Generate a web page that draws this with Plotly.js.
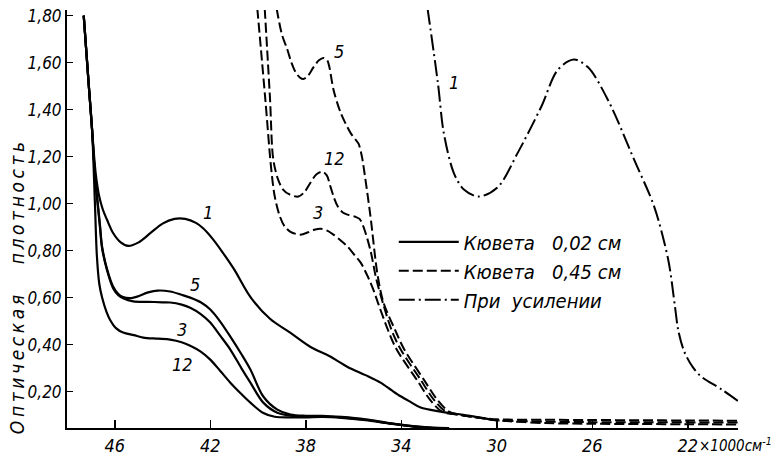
<!DOCTYPE html>
<html><head><meta charset="utf-8">
<script src="https://cdn.plot.ly/plotly-3.0.1.min.js"></script>
<style>html,body{margin:0;padding:0;background:#fff}#chart{width:776px;height:460px}</style>
</head><body><div id="chart"></div>
<script>
// Solid lines: cuvette 0.02 cm
const solid1X = [47.3, 47.1, 46.95, 46.8, 46.65, 46.5, 46.32, 46.07, 45.75, 45.44, 45.0, 44.5, 44.0, 43.5, 43.05, 42.6, 42.3, 41.9, 41.5, 41.0, 40.3, 39.5, 38.64, 37.8, 37.0, 36.25, 35.5, 34.87, 34.4, 34.03, 33.6, 33.19, 32.35, 31.2, 30.0];
const solid1Y = [1.80, 1.52, 1.315, 1.13, 1.03, 0.975, 0.93, 0.875, 0.835, 0.82, 0.835, 0.875, 0.915, 0.935, 0.935, 0.918, 0.895, 0.85, 0.795, 0.72, 0.60, 0.51, 0.45, 0.39, 0.35, 0.305, 0.27, 0.238, 0.205, 0.18, 0.155, 0.132, 0.115, 0.098, 0.077];
const solid5X = [47.3, 47.1, 46.95, 46.8, 46.74, 46.62, 46.53, 46.32, 46.07, 45.85, 45.65, 45.3, 45.06, 44.6, 44.2, 43.68, 43.2, 42.84, 42.4, 42.0, 41.6, 41.16, 40.7, 40.32, 39.78, 39.19, 38.64, 38.0, 37.3, 36.5, 35.5, 34.5, 33.5, 32.8, 32.0];
const solid5Y = [1.80, 1.52, 1.315, 1.08, 1.03, 0.91, 0.817, 0.72, 0.647, 0.615, 0.602, 0.598, 0.604, 0.622, 0.63, 0.626, 0.612, 0.60, 0.58, 0.549, 0.50, 0.434, 0.36, 0.294, 0.179, 0.123, 0.102, 0.097, 0.097, 0.092, 0.082, 0.066, 0.053, 0.047, 0.045];
const solid3X = [47.3, 47.1, 46.95, 46.8, 46.74, 46.62, 46.53, 46.32, 46.07, 45.85, 45.65, 45.23, 44.6, 44.0, 43.68, 43.2, 42.84, 42.4, 42.0, 41.6, 41.16, 40.7, 40.32, 39.78, 39.19, 38.64, 38.0, 37.3, 36.5, 35.5, 34.5, 33.5, 32.8, 32.0];
const solid3Y = [1.80, 1.52, 1.315, 1.07, 1.02, 0.90, 0.81, 0.715, 0.64, 0.61, 0.597, 0.584, 0.582, 0.58, 0.579, 0.57, 0.557, 0.53, 0.494, 0.44, 0.379, 0.30, 0.238, 0.153, 0.11, 0.098, 0.095, 0.095, 0.09, 0.08, 0.065, 0.052, 0.047, 0.045];
const solid12X = [47.3, 47.1, 46.95, 46.83, 46.75, 46.65, 46.53, 46.35, 46.2, 45.95, 45.65, 45.2, 44.81, 44.2, 43.68, 43.2, 42.84, 42.4, 42.0, 41.6, 41.16, 40.7, 40.32, 39.8, 39.3, 38.64, 38.0, 37.3, 36.5, 35.5, 34.5, 33.5, 32.8, 32.0];
const solid12Y = [1.80, 1.52, 1.315, 1.00, 0.78, 0.66, 0.60, 0.54, 0.506, 0.47, 0.451, 0.44, 0.43, 0.425, 0.421, 0.41, 0.395, 0.37, 0.336, 0.29, 0.238, 0.19, 0.153, 0.11, 0.093, 0.09, 0.09, 0.092, 0.088, 0.078, 0.064, 0.051, 0.046, 0.045];

// Dashed lines: cuvette 0.45 cm
const dash5X = [39.22, 39.0, 38.77, 38.6, 38.43, 38.25, 38.1, 37.9, 37.68, 37.45, 37.26, 37.1, 37.01, 36.84, 36.54, 36.12, 35.9, 35.79, 35.65, 35.58, 35.29, 35.0, 34.75, 34.25, 33.88, 33.05, 32.5, 32.0, 31.5, 30.5, 30.0, 28, 26, 24, 22, 19.9];
const dash5Y = [1.83, 1.72, 1.655, 1.60, 1.56, 1.537, 1.53, 1.545, 1.58, 1.61, 1.62, 1.61, 1.58, 1.485, 1.387, 1.30, 1.27, 1.255, 1.20, 1.157, 0.945, 0.70, 0.58, 0.46, 0.38, 0.25, 0.166, 0.115, 0.10, 0.087, 0.082, 0.08, 0.079, 0.078, 0.077, 0.076];
const dash12X = [39.72, 39.5, 39.36, 39.15, 38.95, 38.7, 38.31, 38.05, 37.8, 37.55, 37.3, 37.12, 36.96, 36.8, 36.67, 36.45, 36.25, 35.95, 35.75, 35.58, 35.29, 35.05, 34.75, 34.4, 34.03, 33.19, 32.64, 32.14, 31.5, 30.5, 30.0, 28, 26, 24, 22, 19.9];
const dash12Y = [1.83, 1.45, 1.187, 1.10, 1.06, 1.04, 1.03, 1.05, 1.09, 1.125, 1.136, 1.12, 1.07, 1.02, 0.99, 0.962, 0.953, 0.945, 0.935, 0.90, 0.80, 0.68, 0.57, 0.46, 0.38, 0.25, 0.166, 0.115, 0.10, 0.085, 0.078, 0.072, 0.07, 0.07, 0.069, 0.068];
const dash3X = [40.03, 39.7, 39.45, 39.3, 39.1, 38.9, 38.64, 38.22, 37.9, 37.6, 37.38, 37.1, 36.84, 36.5, 36.25, 35.95, 35.7, 35.5, 35.29, 35.12, 34.95, 34.55, 34.2, 33.35, 32.8, 32.3, 31.5, 30.5, 30.0, 28, 26, 24, 22, 19.9];
const dash3Y = [1.83, 1.45, 1.15, 1.03, 0.95, 0.905, 0.88, 0.868, 0.878, 0.89, 0.893, 0.885, 0.868, 0.84, 0.817, 0.78, 0.749, 0.71, 0.664, 0.62, 0.57, 0.46, 0.38, 0.25, 0.166, 0.115, 0.10, 0.085, 0.078, 0.066, 0.063, 0.062, 0.061, 0.06];

// Dash-dot: with amplification
const ampX = [32.9, 32.47, 32.22, 31.8, 31.38, 30.75, 29.96, 29.12, 28.15, 27.44, 26.77, 26.18, 25.34, 24.25, 23.41, 22.82, 22.55, 22.4, 22.15, 21.8, 21.44, 20.6, 19.9];
const ampY = [1.83, 1.515, 1.30, 1.13, 1.06, 1.03, 1.07, 1.217, 1.41, 1.57, 1.613, 1.58, 1.44, 1.187, 0.987, 0.76, 0.57, 0.46, 0.37, 0.305, 0.264, 0.21, 0.16];

const xTickVals = [46, 42, 38, 34, 30, 26, 22];
const xTickText = ['46', '42', '38', '34', '30', '26', '22'];
const xUnit = '×1000см<sup>-1</sup>';
const yTitle = 'Оптическая\u00a0\u00a0\u00a0плотность';
const legendNames = ['Кювета\u00a0\u00a0\u00a00,02\u00a0см', 'Кювета\u00a0\u00a0\u00a00,45\u00a0см', 'При\u00a0\u00a0усилении'];
const curveLabels = [
  {x: 42.08, y: 0.962, t: '1'}, {x: 42.63, y: 0.655, t: '5'}, {x: 43.17, y: 0.464, t: '3'}, {x: 43.17, y: 0.315, t: '12'},
  {x: 36.63, y: 1.647, t: '5'}, {x: 36.8, y: 1.19, t: '12'}, {x: 37.5, y: 0.962, t: '3'}, {x: 31.8, y: 1.515, t: '1'}
];

const FONT = "'DejaVu Sans Condensed', 'DejaVu Sans', sans-serif";
const black = '#000';
const sp = {shape: 'spline', smoothing: 0.9};
function tr(x, y, dash, w, name, show, grp) {
  return {x: x, y: y, mode: 'lines', type: 'scatter', name: name, showlegend: !!show, legendgroup: grp,
    line: Object.assign({color: black, width: w, dash: dash}, sp), hoverinfo: 'skip'};
}
const DASH = '10px,4px';
const DDOT = '16px,4px,2px,4px';
const data = [
  tr(solid1X, solid1Y, 'solid', 2.2, legendNames[0], true, 'a'),
  tr(dash5X, dash5Y, DASH, 2, legendNames[1], true, 'b'),
  tr(ampX, ampY, DDOT, 2, legendNames[2], true, 'c'),
  tr(solid5X, solid5Y, 'solid', 2.2, 'solid 5', false, 'a'),
  tr(solid3X, solid3Y, 'solid', 2.2, 'solid 3', false, 'a'),
  tr(solid12X, solid12Y, 'solid', 2.2, 'solid 12', false, 'a'),
  tr(dash12X, dash12Y, DASH, 2, 'dashed 12', false, 'b'),
  tr(dash3X, dash3Y, DASH, 2, 'dashed 3', false, 'b')
];

const annotations = curveLabels.map(c => ({x: c.x, y: c.y, xref: 'x', yref: 'y', text: c.t, showarrow: false,
  font: {family: FONT, size: 18, color: black, style: 'italic'}}));
annotations.push({xref: 'paper', yref: 'paper', x: -0.075, y: 0.34, xanchor: 'center', yanchor: 'middle', text: yTitle,
  textangle: -90, showarrow: false, font: {family: FONT, size: 19, color: black, style: 'italic'}});
annotations.push({xref: 'x', yref: 'paper', x: 22, y: 0, xanchor: 'left', yanchor: 'top', xshift: 9, yshift: -5,
  text: xUnit, showarrow: false, font: {family: FONT, size: 15, color: black, style: 'italic'}});

const layout = {
  width: 776, height: 460,
  margin: {l: 67, r: 38, t: 10, b: 32},
  paper_bgcolor: '#fff', plot_bgcolor: '#fff',
  separators: ', ',
  font: {family: FONT, color: black, style: 'italic'},
  xaxis: {range: [48.0, 19.9], showgrid: false, zeroline: false, showline: true, linecolor: black, linewidth: 2,
    ticks: 'inside', ticklen: 8, tickwidth: 1.5, tickcolor: black, tickvals: xTickVals, ticktext: xTickText,
    tickfont: {family: FONT, size: 18, color: black, style: 'italic'}},
  yaxis: {range: [0.045, 1.824], showgrid: false, zeroline: false, showline: true, linecolor: black, linewidth: 2,
    ticks: 'inside', ticklen: 6, tickwidth: 1.5, tickcolor: black, tick0: 0, dtick: 0.2, tickformat: '.2f',
    tickfont: {family: FONT, size: 17, color: black, style: 'italic'}},
  showlegend: true,
  legend: {x: 0.487, y: 0.492, xanchor: 'left', yanchor: 'top', bgcolor: 'rgba(0,0,0,0)', borderwidth: 0,
    traceorder: 'grouped', tracegroupgap: 0, itemwidth: 60,
    font: {family: FONT, size: 20, color: black, style: 'italic'}},
  annotations: annotations
};
Plotly.newPlot('chart', data, layout, {staticPlot: true, displayModeBar: false}).then(function () {
  document.querySelectorAll('text.annotation-text').forEach(function (t) {
    if (t.textContent.indexOf('Оптическая') >= 0) { t.style.letterSpacing = '3.6px'; }
  });
});
</script></body></html>
